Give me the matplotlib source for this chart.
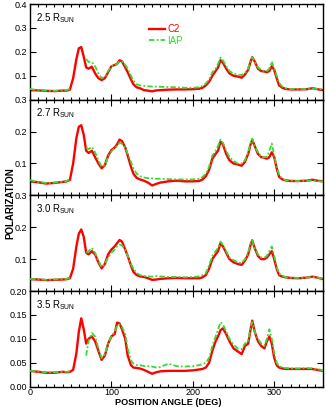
import numpy as np
import matplotlib
matplotlib.use('Agg')
import matplotlib.pyplot as plt
from matplotlib.ticker import MultipleLocator, FuncFormatter

plt.rcParams['font.family'] = ['Liberation Sans', 'DejaVu Sans']

# position angle grid (deg)
pa = [0, 10, 20, 30, 40, 45, 49, 53, 57, 60, 63, 66, 69, 72, 76, 80, 84, 88, 92, 96,
      100, 104, 107, 110, 113, 117, 120, 124, 127, 131, 135, 140, 145, 150, 155, 160,
      170, 180, 190, 200, 208, 212, 216, 220, 224, 228, 231, 234, 237, 241, 245, 250,
      255, 260, 264, 268, 271, 273, 276, 280, 284, 288, 291, 294, 297, 300, 303, 306,
      310, 314, 320, 330, 340, 347, 353, 360]
nan = np.nan

# 2.5 Rsun
c2_25 = [0.040, 0.039, 0.037, 0.036, 0.038, 0.038, 0.042, 0.09, 0.17, 0.215, 0.22, 0.18,
         0.135, 0.13, 0.138, 0.11, 0.09, 0.082, 0.09, 0.115, 0.14, 0.145, 0.15, 0.165, 0.16,
         0.135, 0.115, 0.085, 0.065, 0.052, 0.048, 0.040, 0.038, 0.035, 0.039, 0.040, 0.042,
         0.043, 0.043, 0.044, 0.046, 0.05, 0.06, 0.075, 0.10, 0.12, 0.135, 0.165, 0.155, 0.13,
         0.11, 0.10, 0.097, 0.092, 0.105, 0.125, 0.16, 0.178, 0.16, 0.13, 0.12, 0.118, 0.115,
         0.12, 0.14, 0.125, 0.09, 0.06, 0.05, 0.045, 0.043, 0.043, 0.044, 0.048, 0.044, 0.040]
iap_25 = [0.045, 0.040, 0.038, 0.037, 0.039, 0.040, 0.045, nan, nan, nan, nan, nan,
          0.17, 0.158, 0.158, 0.14, 0.11, 0.09, 0.095, 0.12, 0.14, 0.145, 0.15, 0.16, 0.16,
          0.145, 0.13, 0.10, 0.08, 0.065, 0.06, 0.058, 0.056, 0.055, 0.055, 0.054, 0.053,
          0.052, 0.050, 0.050, 0.052, 0.058, 0.068, 0.085, 0.115, 0.13, 0.15, 0.176, 0.165, 0.14,
          0.12, 0.11, 0.105, 0.103, 0.11, 0.13, 0.165, 0.178, 0.16, 0.135, 0.125, 0.12, 0.12,
          0.13, 0.16, 0.13, 0.10, 0.07, 0.055, 0.048, 0.045, 0.045, 0.045, 0.047, 0.045, 0.042]

# 2.7 Rsun
c2_27 = [0.044, 0.041, 0.037, 0.039, 0.042, 0.044, 0.048, 0.10, 0.18, 0.215, 0.22, 0.19,
         0.14, 0.133, 0.14, 0.12, 0.10, 0.085, 0.095, 0.125, 0.142, 0.15, 0.16, 0.175, 0.17,
         0.15, 0.125, 0.09, 0.068, 0.055, 0.05, 0.046, 0.040, 0.031, 0.036, 0.040, 0.044,
         0.046, 0.044, 0.044, 0.045, 0.05, 0.06, 0.08, 0.115, 0.13, 0.14, 0.168, 0.16, 0.13,
         0.11, 0.10, 0.097, 0.093, 0.105, 0.13, 0.16, 0.174, 0.155, 0.13, 0.12, 0.118, 0.115,
         0.12, 0.135, 0.12, 0.085, 0.058, 0.05, 0.047, 0.045, 0.045, 0.046, 0.049, 0.046, 0.044]
iap_27 = [0.048, 0.042, 0.039, 0.040, 0.043, 0.045, 0.05, nan, nan, nan, nan, nan,
          0.15, 0.145, 0.152, 0.135, 0.11, 0.09, 0.095, 0.12, 0.138, 0.148, 0.155, 0.165, 0.162,
          0.15, 0.13, 0.105, 0.085, 0.068, 0.06, 0.056, 0.054, 0.053, 0.052, 0.052, 0.051,
          0.050, 0.050, 0.050, 0.052, 0.058, 0.068, 0.09, 0.125, 0.14, 0.155, 0.175, 0.165, 0.14,
          0.12, 0.108, 0.10, 0.10, 0.11, 0.135, 0.165, 0.178, 0.155, 0.135, 0.12, 0.12, 0.12,
          0.14, 0.163, 0.125, 0.09, 0.065, 0.052, 0.048, 0.046, 0.045, 0.045, 0.047, 0.045, 0.043]

# 3.0 Rsun
c2_30 = [0.037, 0.036, 0.034, 0.035, 0.036, 0.037, 0.04, 0.07, 0.14, 0.18, 0.193, 0.17,
         0.12, 0.115, 0.125, 0.115, 0.09, 0.071, 0.085, 0.115, 0.13, 0.14, 0.15, 0.16, 0.155,
         0.13, 0.11, 0.08, 0.06, 0.05, 0.046, 0.044, 0.04, 0.035, 0.036, 0.038, 0.040,
         0.041, 0.040, 0.040, 0.040, 0.043, 0.05, 0.07, 0.10, 0.115, 0.125, 0.15, 0.14, 0.12,
         0.10, 0.09, 0.085, 0.082, 0.095, 0.115, 0.145, 0.159, 0.135, 0.11, 0.10, 0.10, 0.105,
         0.115, 0.125, 0.10, 0.07, 0.05, 0.045, 0.043, 0.041, 0.040, 0.042, 0.045, 0.042, 0.037]
iap_30 = [0.038, 0.037, 0.035, 0.036, 0.037, 0.038, 0.042, nan, nan, nan, nan, nan,
          0.12, 0.125, 0.135, 0.12, 0.095, 0.075, 0.085, 0.105, 0.12, 0.13, 0.14, 0.145, 0.143,
          0.13, 0.11, 0.085, 0.07, 0.057, 0.05, 0.047, 0.046, 0.045, 0.047, 0.046, 0.044,
          0.044, 0.043, 0.044, 0.046, 0.05, 0.056, 0.08, 0.11, 0.125, 0.135, 0.155, 0.145, 0.125,
          0.105, 0.097, 0.09, 0.088, 0.10, 0.12, 0.15, 0.158, 0.135, 0.115, 0.105, 0.105, 0.11,
          0.125, 0.14, 0.11, 0.075, 0.055, 0.047, 0.044, 0.042, 0.041, 0.042, 0.044, 0.042, 0.038]

# 3.5 Rsun
c2_35 = [0.033, 0.031, 0.029, 0.029, 0.031, 0.030, 0.031, 0.035, 0.07, 0.115, 0.143, 0.12,
         0.09, 0.10, 0.105, 0.095, 0.075, 0.056, 0.065, 0.09, 0.105, 0.11, 0.134, 0.132, 0.12,
         0.10, 0.065, 0.045, 0.04, 0.039, 0.038, 0.035, 0.031, 0.027, 0.030, 0.032, 0.033,
         0.033, 0.033, 0.034, 0.036, 0.037, 0.040, 0.05, 0.075, 0.095, 0.105, 0.118, 0.122, 0.11,
         0.095, 0.08, 0.074, 0.068, 0.085, 0.09, 0.12, 0.138, 0.115, 0.095, 0.085, 0.08, 0.095,
         0.105, 0.09, 0.06, 0.045, 0.04, 0.038, 0.037, 0.037, 0.037, 0.037, 0.037, 0.035, 0.033]
iap_35 = [0.033, 0.032, 0.030, 0.030, 0.031, 0.031, 0.032, nan, nan, nan, nan, nan,
          0.065, 0.095, 0.112, 0.105, 0.08, 0.06, 0.068, 0.09, 0.105, 0.115, 0.128, 0.13, 0.125,
          0.11, 0.08, 0.055, 0.048, 0.045, 0.045, 0.043, 0.043, 0.042, 0.04, 0.041, 0.048,
          0.043, 0.042, 0.043, 0.045, 0.047, 0.05, 0.06, 0.085, 0.105, 0.12, 0.135, 0.13, 0.115,
          0.10, 0.088, 0.08, 0.078, 0.09, 0.095, 0.125, 0.135, 0.115, 0.10, 0.09, 0.085, 0.10,
          0.12, 0.10, 0.07, 0.05, 0.043, 0.04, 0.039, 0.038, 0.038, 0.039, 0.038, 0.037, 0.034]

heights = ['2.5', '2.7', '3.0', '3.5']
c2_list = [c2_25, c2_27, c2_30, c2_35]
iap_list = [iap_25, iap_27, iap_30, iap_35]
ymax = [0.4, 0.3, 0.3, 0.2]
ystep = [0.1, 0.1, 0.1, 0.05]
ydec = [1, 1, 1, 2]

red = '#ff0000'
green = '#33dd33'


def make_fmt(ndec, hide_zero):
    # IDL-style stacked panels: the bottom 0 label is covered by the next panel's top label
    def f(v, pos):
        if hide_zero and abs(v) < 1e-9:
            return ''
        return '%.*f' % (ndec, v)
    return FuncFormatter(f)


fig, axes = plt.subplots(4, 1, figsize=(3.26, 4.07), dpi=100, sharex=True)
plt.subplots_adjust(left=0.092, right=0.991, top=0.99, bottom=0.05, hspace=0)

for i, ax in enumerate(axes):
    ax.plot(pa, c2_list[i], color=red, lw=1.7, label='C2', zorder=2)
    ax.plot(pa, iap_list[i], color=green, lw=1.3, dashes=(3, 1.2, 1, 1.2), label='IAP', zorder=3)
    ax.set_xlim(0, 360)
    ax.set_ylim(0, ymax[i])
    ax.xaxis.set_major_locator(MultipleLocator(100))
    ax.xaxis.set_minor_locator(MultipleLocator(10))
    ax.yaxis.set_major_locator(MultipleLocator(ystep[i]))
    ax.yaxis.set_major_formatter(make_fmt(ydec[i], i < 3))
    ax.tick_params(which='both', direction='in', top=True, right=True,
                   labelsize=6.5, pad=2, width=0.8)
    ax.tick_params(axis='x', pad=1)
    ax.tick_params(which='major', length=4)
    ax.tick_params(which='minor', length=2)
    ax.tick_params(axis='y', which='minor', left=False, right=False)
    for s in ax.spines.values():
        s.set_linewidth(1.0)
    if i < 3:
        ax.tick_params(labelbottom=False)
    ax.text(0.02, 0.93, heights[i] + r' R$_{\mathregular{SUN}}$', transform=ax.transAxes,
            fontsize=7, va='top', ha='left')

leg = axes[0].legend(loc='upper left', bbox_to_anchor=(0.39, 0.84), frameon=False,
                     fontsize=7, handlelength=1.6, handletextpad=0.3, labelspacing=0.15,
                     borderpad=0, labelcolor='linecolor')

fig.text(0.515, 0.0, 'POSITION ANGLE (DEG)', fontsize=6.6, fontweight='bold',
         ha='center', va='bottom')
fig.text(0.015, 0.5, 'POLARIZATION', rotation=90, fontsize=7, fontweight='bold',
         va='center', ha='left')

plt.savefig('out.png', dpi=100)
